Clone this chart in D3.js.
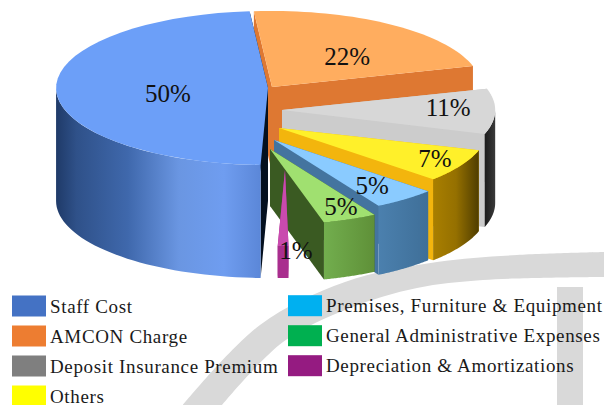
<!DOCTYPE html>
<html><head><meta charset="utf-8">
<script src="https://cdn.jsdelivr.net/npm/d3@7/dist/d3.min.js"></script>
<style>html,body{margin:0;padding:0;background:#fff}svg{display:block}
text{font-family:"Liberation Serif",serif;fill:#1a1a1a}</style></head><body>
<script>
// ---- data
const categories=["Staff Cost","AMCON Charge","Deposit Insurance Premium","Others","Premises, Furniture & Equipment","General Administrative Expenses","Depreciation & Amortizations"];
const shares=[50,22,11,7,5,5,1];
const legendColors=["#4472C4","#ED7D31","#7F7F7F","#FFFF00","#00B0F0","#00B050","#951B81"];
// ---- layout of the exploded, tilted pie (one entry per slice)
const firstAngle=176.8, rx=209, ry=76;
const apexX=[268,272,282,279,274,270,285];
const apexY=[88,87,110,128,140,149,170];
const depth=[113,85,93,81,69,57,32];
const radiusScale=[1.014,1,1.02,1,1,1,1];
const trimStart=[5.2,0,0.6,-5.6,-5.1,-5.4,5.8];
const trimEnd=[0,0.6,-4.6,-5.1,-5.4,-8.2,5.2];
const labelAngle=[262,42.3,88,117.9,142.2,156,177.2];
const labelRadius=[.477,.534,.78,.844,.766,.835,1.067];
const drawOrder=[1,0,2,3,4,5,6];
const topFill=["#6C9FF8","#FFAD5F","#D7D7D7","#FFF02A","#8ACBFF","#A0E070","#C94AAE"];
const cutFill=["#04101f","#DE7832","#CCCCCC","#F3B50D","#44749F","#3A5A22","#A92E8E"];
const sideStops=[
 [["#1F3A68",0],["#2F5189",.1],["#3F68AC",.35],["#6A96E2",.6],["#6F9DF0",.82],["#5B87D8",1]],
 [["#DE7832",0],["#DE7832",1]],
 [["#1C1C1C",0],["#3A3A3A",1]],
 [["#A97F00",0],["#957000",.5],["#4F3D00",1]],
 [["#4B80AE",0],["#3F6F98",1]],
 [["#72AE4E",0],["#5F9038",1]],
 [["#A92E8E",0],["#A92E8E",1]]];
// ---- legend layout
const legendCol=[0,0,0,0,1,1,1], legendRow=[0,1,2,3,0,1,2];
const colSwatchX=[12,288], colTextX=[50,326], colOffset=[0,-.3];
// ---- background watermark
const wmOuter=[[183,405],[260,325],[345,282],[437,262],[517,255],[604,252]];
const wmInner=[[604,277],[483,280],[417,288],[350,308],[283,342],[222,405]];

const W=604,H=405;
const svg=d3.select("body").append("svg").attr("width",W).attr("height",H);
const defs=svg.append("defs");
const rad=d=>d*Math.PI/180;
const line=d3.line();

// background
const wmLine=d3.line().curve(d3.curveCatmullRom);
svg.append("path").attr("d",wmLine(wmOuter)+"L"+wmLine(wmInner).slice(1)+"Z").attr("fill","#D9D9D9");
const yRow=d3.scaleLinear().domain([0,1]).range([295.5,325.5]);
const bar=d3.scaleLinear().domain([0,1]).range([557,583]);
svg.append("rect").attr("x",bar(0)).attr("y",287).attr("width",bar(1)-bar(0)).attr("height",H-287).attr("fill","#D9D9D9");

// pie angles (wrapped so the whole pie runs from -90deg onward)
const pie=d3.pie().sort(null).startAngle(rad(firstAngle)).endAngle(rad(firstAngle+360));
const arcs=pie(shares).map((a,i)=>{
  const wrap=a.startAngle+rad(trimStart[i])>=rad(300)?2*Math.PI:0;
  return {i,a0:a.startAngle+rad(trimStart[i])-wrap,a1:a.endAngle+rad(trimEnd[i])-wrap};
});
const pt=(i,th,r=1,z=0)=>[apexX[i]+rx*radiusScale[i]*r*Math.sin(th),apexY[i]-ry*radiusScale[i]*r*Math.cos(th)+z];
const arcPts=(i,a0,a1,z=0)=>d3.range(0,41).map(k=>pt(i,a0+(a1-a0)*k/40,1,z));

const g=svg.append("g");
drawOrder.forEach(i=>{
  const {a0,a1}=arcs[i], d=depth[i];
  // start and end cut faces
  [a0,a1].forEach(a=>{
    g.append("path").attr("d",line([pt(i,a,0),pt(i,a,1),pt(i,a,1,d),pt(i,a,0,d)])+"Z").attr("fill",cutFill[i]);
  });
  // outer wall (front half only)
  const s0=Math.max(a0,rad(90)), s1=Math.min(a1,rad(270));
  if(s1>s0){
    const wall=arcPts(i,s0,s1).concat(arcPts(i,s0,s1,d).reverse());
    const xs=wall.map(p=>p[0]);
    const id="wall"+i;
    const gr=defs.append("linearGradient").attr("id",id).attr("gradientUnits","userSpaceOnUse")
      .attr("x1",d3.min(xs)).attr("x2",d3.max(xs)).attr("y1",0).attr("y2",0);
    sideStops[i].forEach(s=>gr.append("stop").attr("offset",s[1]).attr("stop-color",s[0]));
    g.append("path").attr("d",line(wall)+"Z").attr("fill",`url(#${id})`);
  }
  // top face
  g.append("path").attr("d",line([pt(i,a0,0)].concat(arcPts(i,a0,a1)))+"Z").attr("fill",topFill[i]);
});

// value labels
shares.forEach((v,i)=>{
  const p=pt(i,rad(labelAngle[i]),labelRadius[i]);
  svg.append("text").attr("x",p[0]).attr("y",p[1]).attr("dy","0.34em").attr("text-anchor","middle")
    .attr("font-size",25).style("fill","#111").text(v+"%");
});

// legend
categories.forEach((c,i)=>{
  const col=legendCol[i], y=yRow(legendRow[i])+colOffset[col];
  svg.append("rect").attr("x",colSwatchX[col]).attr("y",y).attr("width",34).attr("height",Math.min(21,H-y)).attr("fill",legendColors[i]);
  svg.append("text").attr("x",colTextX[col]).attr("y",y+17).attr("font-size",19).attr("letter-spacing",.65).text(c);
});
</script></body></html>
